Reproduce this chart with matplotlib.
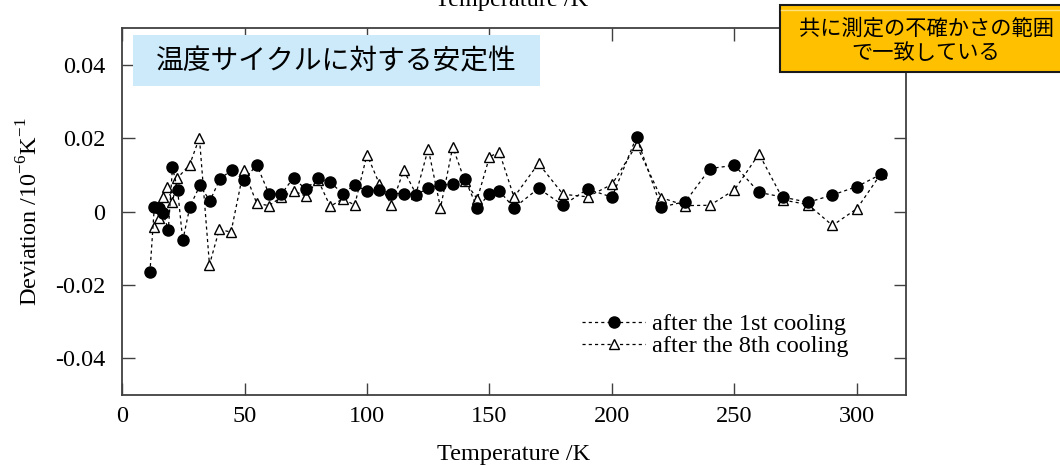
import matplotlib
matplotlib.use("Agg")
import matplotlib.pyplot as plt
from matplotlib.patches import Rectangle
from matplotlib.lines import Line2D

plt.rcParams["font.family"] = ["Liberation Serif", "DejaVu Serif"]
plt.rcParams["axes.unicode_minus"] = False

# deviation from reference curve, 1st cooling
temp_1st = [11.4, 13.2, 14.9, 16.8, 18.9, 20.6, 22.7, 24.8, 27.7, 31.8,
            35.9, 40, 44.8, 49.7, 55, 60, 65, 70, 75, 80,
            85, 90, 95, 100, 105, 110, 115, 120, 125, 130,
            135, 140, 145, 150, 154, 160, 170, 180, 190, 200,
            210, 220, 230, 240, 250, 260, 270, 280, 290, 300, 310]
dev_1st = [-0.0166, 0.0013, 0.0009, -0.0005, -0.0051, 0.0120, 0.0059, -0.0079, 0.0013, 0.0071,
           0.0029, 0.0089, 0.0113, 0.0085, 0.0127, 0.0048, 0.0047, 0.0092, 0.0060, 0.0091,
           0.0080, 0.0049, 0.0072, 0.0056, 0.0058, 0.0049, 0.0049, 0.0046, 0.0063, 0.0073,
           0.0074, 0.0088, 0.0010, 0.0048, 0.0056, 0.0010, 0.0063, 0.0017, 0.0061, 0.0039,
           0.0203, 0.0012, 0.0027, 0.0117, 0.0126, 0.0052, 0.0039, 0.0025, 0.0045, 0.0068, 0.0102]

# same, after the 8th cooling
temp_8th = [13, 15, 16.8, 18.5, 20.6, 22.6, 27.6, 31.6, 35.7, 39.7,
            44.5, 49.7, 55, 60, 65, 70, 75, 80, 85, 90,
            95, 100, 105, 110, 115, 120, 125, 130, 135, 140,
            145, 150, 154, 160, 170, 180, 190, 200, 210, 220,
            230, 240, 250, 260, 270, 280, 290, 300, 310]
dev_8th = [-0.0042, -0.0018, 0.0040, 0.0067, 0.0026, 0.0091, 0.0127, 0.0201, -0.0145, -0.0049,
           -0.0056, 0.0114, 0.0022, 0.0016, 0.0039, 0.0056, 0.0042, 0.0086, 0.0014, 0.0034,
           0.0018, 0.0155, 0.0076, 0.0018, 0.0112, 0.0048, 0.0171, 0.0010, 0.0176, 0.0082,
           0.0034, 0.0149, 0.0162, 0.0039, 0.0131, 0.0047, 0.0040, 0.0074, 0.0181, 0.0038,
           0.0016, 0.0017, 0.0059, 0.0157, 0.0031, 0.0019, -0.0038, 0.0008, 0.0105]

x_ticks = [0, 50, 100, 150, 200, 250, 300]
y_ticks = [-0.04, -0.02, 0, 0.02, 0.04]
y_tick_labels = ["-0.04", "-0.02", "0", "0.02", "0.04"]

W, H = 1060, 466
fig = plt.figure(figsize=(W / 100, H / 100), dpi=100)
ax = fig.add_axes([122 / W, 1 - 395 / H, (906 - 122) / W, (395 - 28) / H])

dash = (0, (2.5, 2.5))
ax.plot(temp_1st, dev_1st, linestyle=dash, color="black", linewidth=0.9,
        marker="o", markersize=8, markerfacecolor="black", markeredgecolor="black",
        label="after the 1st cooling", zorder=3)
ax.plot(temp_8th, dev_8th, linestyle=dash, color="black", linewidth=0.9,
        marker="^", markersize=7.5, markerfacecolor="white", markeredgecolor="black",
        markeredgewidth=1.0, label="after the 8th cooling", zorder=2)

ax.set_xlim(0, 320)
ax.set_ylim(-0.05, 0.05)
ax.set_xticks(x_ticks)
ax.set_yticks(y_ticks)
ax.set_yticklabels(y_tick_labels)
ax.tick_params(direction="in", length=9, width=1.0, color="#404040",
               top=True, right=True, labelsize=17.5, pad=8)
ax.tick_params(axis="y", pad=12)
for s in ax.spines.values():
    s.set_color("#404040")
    s.set_linewidth(1.3)

ax.set_xlabel("Temperature /K", fontsize=17.5, labelpad=12)
ax.set_ylabel(r"Deviation /10$^{\mathregular{-6}}$K$^{\mathregular{-1}}$", fontsize=17.5, labelpad=9)

ax.legend(loc="upper left", bbox_to_anchor=(582 / W, 1 - 313 / H),
          bbox_transform=fig.transFigure, frameon=False, fontsize=17.5,
          handlelength=2.6, handletextpad=0.3, labelspacing=0.0,
          borderpad=0, borderaxespad=0)

# top axis label, partly off the canvas
fig.text(512 / W, 1 - 6 / H, "Temperature /K", fontsize=17.5, ha="center", va="baseline")

# title box
fig.patches.append(Rectangle((133 / W, 1 - 86 / H), (540 - 133) / W, (86 - 35) / H,
                             transform=fig.transFigure, facecolor="#CDEAFA",
                             edgecolor="none", zorder=5))
fig.text(336 / W, 1 - 61 / H, "温度サイクルに対する安定性", fontsize=20,
         family=["Noto Sans CJK JP"], ha="center", va="center", zorder=6)

# note box
fig.patches.append(Rectangle((780 / W, 1 - 72 / H), (W + 10 - 780) / W, (72 - 5) / H,
                             transform=fig.transFigure, facecolor="#FFC000",
                             edgecolor="#1a1a1a", linewidth=1.5, zorder=5))
fig.lines.append(Line2D([781 / W, 1], [1 - 10 / H, 1 - 10 / H], transform=fig.transFigure,
                        color="#FFE27A", linewidth=1.0, zorder=6))
fig.text(926 / W, 1 - 41 / H, "共に測定の不確かさの範囲\nで一致している", fontsize=15.3,
         family=["Noto Sans CJK JP"], ha="center", va="center", linespacing=1.15, zorder=7)

fig.savefig("out.png", dpi=100)
